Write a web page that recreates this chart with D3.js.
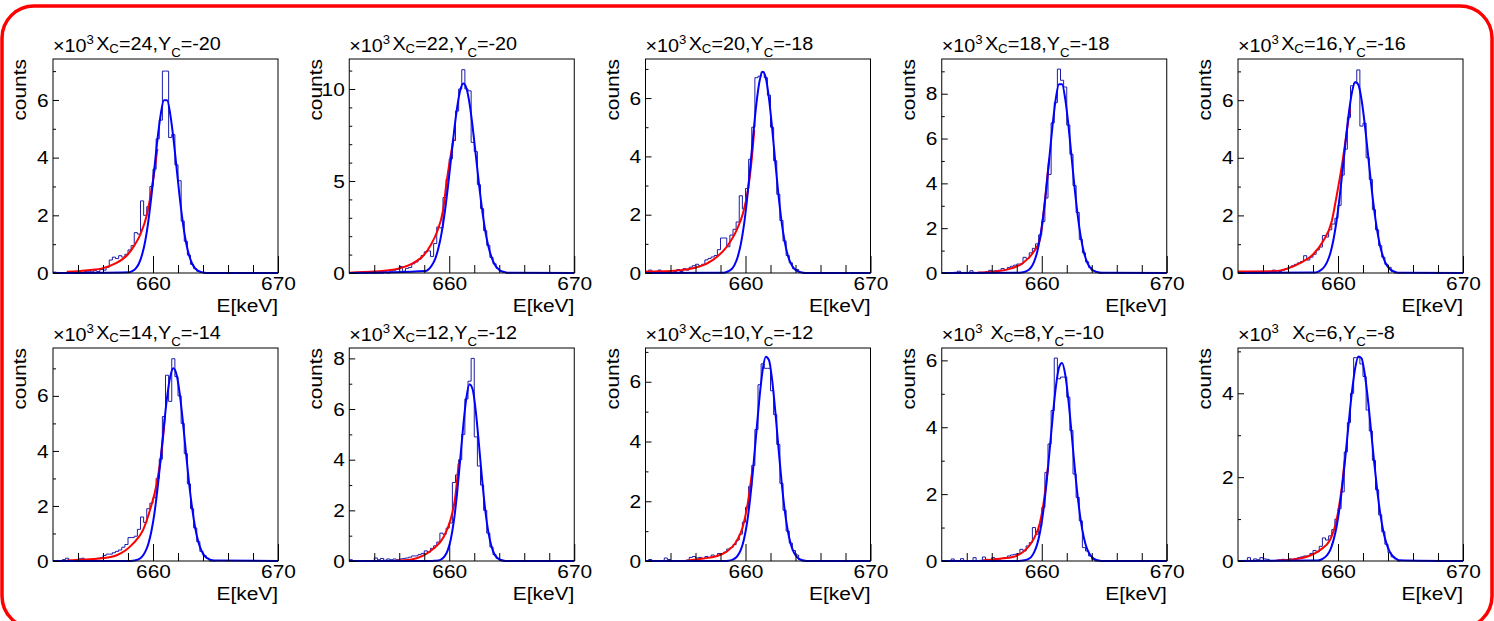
<!DOCTYPE html>
<html>
<head>
<meta charset="utf-8">
<script src="https://cdn.jsdelivr.net/npm/d3@7"></script>
<style>
  body { margin: 0; background: #fff; }
  svg { display: block; font-family: "Liberation Sans", Arial, Helvetica, sans-serif; }
</style>
</head>
<body>
<svg id="chart" width="1494" height="621"></svg>
<script>
// panel labels (X_C, Y_C) and y range top in units of 10^3 counts
const xcLabels = [24, 22, 20, 18, 16, 14, 12, 10, 8, 6];
const ycLabels = [-20, -20, -18, -18, -16, -14, -12, -12, -10, -8];
const yTop = [7.42, 11.63, 7.34, 9.55, 7.43, 7.74, 8.41, 7.13, 6.37, 5.08];
const yStep = [2, 5, 2, 2, 2, 2, 2, 2, 2, 2];
const xMajor = [660, 670];
const xMinor = [654, 656, 658, 662, 664, 666, 668];

// histograms: 0.25 keV bins starting at 652 keV (x10^3 counts)
const binStart = 652, binWidth = 0.25;
const hist1 = [0.03,0.02,0,0,0,0,0,0.02,0.03,0.02, 0.05,0.06,0.04,0.08,0.05,0.12,0.1,0.2,0.45,0.55, 0.5,0.6,0.55,0.65,0.8,0.95,1.4,1.35,2.5,2.0, 2.3,3.0,3.6,4.65,5.3,7.0,7.0,4.7,4.8,3.75, 3.2,1.8,1.1,0.62,0.3,0.15,0.06,0.02,0,0, 0,0];
const hist2 = [0,0,0,0,0,0,0,0,0,0, 0,0.05,0,0.1,0.15,0.2,0.35,0.1,0.25,0.3, 0.5,0.6,0.75,0.95,1.15,1.2,0.9,1.6,2.5,2.45, 4.1,5.1,6.2,7.2,8.8,10.0,11.05,10.0,9.9,7.1, 6.6,4.8,3.5,2.3,1.5,0.85,0.5,0.25,0.1,0.05, 0,0];
const hist3 = [0,0.1,0,0.05,0.1,0,0.05,0.02,0,0.05, 0.12,0.05,0.15,0.1,0.2,0.25,0.3,0.25,0.3,0.45, 0.5,0.55,0.6,0.8,1.2,1.2,0.9,1.3,1.5,1.75, 2.65,2.2,2.9,3.9,5.0,6.7,6.75,6.9,6.7,6.1, 5.0,3.85,2.7,1.8,1.1,0.6,0.35,0.15,0.12,0.03, 0,0];
const hist4 = [0,0,0,0,0.03,0.08,0,0.02,0,0.1, 0,0,0,0,0.05,0.12,0.08,0.1,0.12,0.2, 0.15,0.25,0.3,0.35,0.4,0.4,0.7,0.65,0.9,1.1, 1.3,1.7,2.3,3.35,4.4,6.7,7.6,9.1,8.6,8.3, 6.6,5.3,3.9,2.7,1.5,0.9,0.5,0.25,0.1,0.05, 0,0];
const hist5 = [0,0,0,0,0,0,0,0,0,0, 0.06,0.1,0.08,0.05,0.1,0.15,0.2,0.25,0.3,0.35, 0.4,0.6,0.45,0.55,0.65,0.8,0.9,1.3,1.25,1.5, 1.7,1.9,2.35,3.4,4.3,5.4,6.5,6.6,7.05,5.1, 5.2,4.0,3.25,2.2,1.5,0.95,0.55,0.3,0.2,0.05, 0,0];
const hist6 = [0,0,0,0.05,0.1,0.02,0,0,0.08,0.1, 0.05,0.03,0.05,0.08,0.1,0.12,0.2,0.25,0.25,0.3, 0.35,0.4,0.5,0.6,0.85,0.85,0.9,1.15,1.6,1.4, 1.9,2.1,2.3,3.0,3.7,5.25,6.75,5.8,7.35,6.7, 6.0,5.0,3.9,2.8,1.9,1.2,0.7,0.35,0.2,0.1, 0,0];
const hist7 = [0.05,0,0,0,0,0,0,0,0.12,0.05, 0.1,0.03,0.08,0.05,0.08,0.05,0.08,0.1,0.12,0.15, 0.2,0.2,0.25,0.3,0.4,0.35,0.5,0.6,0.75,1.1, 1.05,1.3,1.5,3.1,3.4,4.0,5.0,6.4,7.1,8.0, 4.9,3.75,3.0,2.0,1.1,0.55,0.25,0.1,0.04,0, 0,0];
const hist8 = [0,0.05,0,0,0,0,0.1,0.05,0,0, 0,0,0,0.03,0.12,0.15,0.1,0.12,0.08,0.15, 0.12,0.2,0.15,0.25,0.25,0.3,0.4,0.45,0.55,0.7, 0.9,1.3,1.8,2.5,3.2,4.4,5.9,6.6,6.45,6.45, 5.7,4.9,3.9,2.6,1.7,1.0,0.6,0.35,0.2,0.05, 0,0];
const hist9 = [0,0,0,0.06,0,0,0.07,0,0,0, 0.1,0,0.02,0.12,0.05,0.02,0.1,0.05,0.06,0.08, 0.1,0.15,0.18,0.2,0.22,0.35,0.3,0.45,0.55,1.0, 0.8,1.05,1.6,2.65,3.5,4.5,6.07,5.45,5.5,5.5, 4.9,3.9,2.6,1.9,1.2,0.4,0.3,0.15,0.05,0, 0,0];
const hist10 = [0,0,0,0.08,0,0.05,0.03,0.08,0.05,0.04, 0,0,0.02,0.02,0.04,0.03,0.05,0.04,0.06,0.08, 0.1,0.12,0.12,0.18,0.25,0.22,0.35,0.55,0.5,0.6, 0.75,1.0,1.25,1.65,2.6,3.3,4.0,4.85,4.85,4.7, 4.4,3.6,3.1,2.4,1.7,1.1,0.7,0.4,0.2,0.1, 0.05,0];

// blue peak fit, read at 652, 658.125 ... 664.875 (0.25 steps), 670
const blue1 = [0, 0.03,0.07,0.16,0.33,0.63,1.10,1.79, 2.67,3.69,4.70,5.52,5.99,5.99,5.52,4.70,3.69,2.67, 1.79,1.10,0.63,0.33,0.16,0.07,0.03,0.01,0,0,0, 0];
const blue2 = [0, 0.11,0.22,0.43,0.77,1.33,2.13,3.22, 4.57,6.09,7.63,8.97,9.92,10.3,10.04,9.2,7.92,6.4, 4.86,3.47,2.32,1.47,0.87,0.48,0.25,0.12,0.06,0.02,0.01, 0];
const blue3 = [0, 0.01,0.02,0.06,0.13,0.28,0.55,0.99, 1.64,2.53,3.61,4.76,5.82,6.58,6.9,6.69,6.0,4.99, 3.84,2.73,1.80,1.10,0.62,0.33,0.16,0.07,0.03,0.01,0, 0];
const blue4 = [0, 0.01,0.02,0.05,0.11,0.24,0.49,0.92, 1.6,2.58,3.82,5.24,6.64,7.78,8.42,8.42,7.78,6.64, 5.24,3.82,2.58,1.6,0.92,0.49,0.24,0.11,0.05,0.02,0.01, 0];
const blue5 = [0, 0.02,0.04,0.10,0.2,0.38,0.67,1.13, 1.78,2.62,3.6,4.63,5.58,6.29,6.63,6.54,6.04,5.22, 4.22,3.19,2.26,1.5,0.93,0.54,0.29,0.15,0.07,0.03,0.01, 0];
const blue6 = [0, 0,0.01,0.03,0.07,0.16,0.33,0.62, 1.09,1.77,2.68,3.76,4.91,5.95,6.69,7.0,6.79,6.13, 5.13,3.99,2.88,1.94,1.21,0.70,0.38,0.19,0.09,0.04,0.02, 0];
const blue7 = [0, 0,0,0,0.01,0.02,0.07,0.18, 0.42,0.86,1.60,2.67,4.0,5.36,6.46,6.98,6.77,5.9, 4.61,3.23,2.03,1.15,0.58,0.26,0.11,0.04,0.01,0,0, 0];
const blue8 = [0, 0,0,0.01,0.03,0.08,0.18,0.37, 0.72,1.28,2.10,3.15,4.34,5.49,6.4,6.84,6.73,6.08, 5.05,3.85,2.70,1.74,1.03,0.56,0.28,0.13,0.05,0.02,0, 0];
const blue9 = [0, 0,0.01,0.02,0.05,0.11,0.25,0.49, 0.89,1.49,2.31,3.29,4.31,5.2,5.78,5.92,5.58,4.84, 3.87,2.84,1.93,1.2,0.69,0.36,0.18,0.08,0.03,0.01,0, 0];
const blue10 = [0, 0.01,0.01,0.03,0.07,0.14,0.26,0.48, 0.80,1.27,1.87,2.59,3.35,4.06,4.6,4.88,4.84,4.49, 3.9,3.17,2.41,1.72,1.14,0.71,0.42,0.23,0.12,0.06,0.02, 0];

// red low-energy tail fit, [E keV, x10^3 counts]
const red1 = [[653.1,0.04],[654,0.06],[655,0.1],[656,0.17],[657,0.33],[658,0.65],[658.5,0.95],[659,1.35],[659.5,2.0],[660,3.2],[660.35,4.3]];
const red2 = [[652,0.02],[654,0.08],[655,0.14],[656,0.25],[657,0.5],[658,1.0],[658.5,1.5],[659,2.2],[659.5,3.4],[659.8,5.0],[660.35,7.3]];
const red3 = [[652,0.05],[654,0.07],[656.3,0.22],[657.4,0.45],[658.5,0.9],[659.3,1.48],[659.8,2.05],[660.2,2.86],[660.45,3.7],[660.7,4.9]];
const red4 = [[654.9,0.02],[656,0.06],[657.2,0.15],[658.5,0.45],[659.3,0.9],[659.85,1.5],[660.25,3.2],[660.5,4.6],[660.6,5.1]];
const red5 = [[652,0.05],[654.8,0.06],[657,0.35],[658,0.64],[658.8,1.1],[659.5,1.8],[659.9,2.7],[660.3,3.7],[660.7,4.9],[660.95,5.7]];
const red6 = [[653.1,0.02],[655.76,0.09],[657.1,0.21],[658.4,0.63],[659.2,1.12],[659.76,1.85],[660.3,2.82],[660.7,4.03],[660.96,5.25]];
const red7 = [[655.8,0.02],[656.9,0.05],[657.95,0.22],[658.75,0.49],[659.55,0.95],[660.08,1.6],[660.48,2.53],[660.75,3.85]];
const red8 = [[655.25,0.01],[656.6,0.08],[657.65,0.16],[658.45,0.3],[659.25,0.64],[659.78,1.14],[660.18,1.93],[660.58,3.15]];
const red9 = [[655.3,0.02],[656.64,0.07],[657.7,0.12],[658.5,0.27],[659.04,0.47],[659.44,0.72],[659.84,1.12],[660.1,1.62],[660.5,2.81]];
const red10 = [[655.2,0.02],[656.16,0.03],[657.5,0.1],[658.56,0.26],[659.36,0.5],[659.9,1.0],[660.3,1.75],[660.55,2.45]];

const hists = [hist1, hist2, hist3, hist4, hist5, hist6, hist7, hist8, hist9, hist10];
const blues = [blue1, blue2, blue3, blue4, blue5, blue6, blue7, blue8, blue9, blue10];
const reds = [red1, red2, red3, red4, red5, red6, red7, red8, red9, red10];
const fitGrid = [652].concat(d3.range(24, 52).map(i => 652.125 + 0.25 * i), [670]);

const svg = d3.select("#chart");
const sx = 1.1;        // text is a bit wide in the original
const fs = 19;         // tick labels, axis titles
const ft = 18;         // pad title

svg.append("rect")
  .attr("x", 2).attr("y", 6)
  .attr("width", 1490).attr("height", 622)
  .attr("rx", 32).attr("ry", 32)
  .attr("fill", "none")
  .attr("stroke", "#ff0000")
  .attr("stroke-width", 3.5);

const frameW = 225;
const frameTop = [59, 348];
const frameH = [214, 213];

hists.forEach((h, k) => {
  const col = k % 5, row = Math.floor(k / 5);
  const L = 53 + col * 296.25;
  const T = frameTop[row], H = frameH[row];
  const x = d3.scaleLinear().domain([652, 670]).range([L, L + frameW]);
  const y = d3.scaleLinear().domain([0, yTop[k]]).range([T + H, T]);
  const g = svg.append("g");

  // histogram steps
  let p = "M" + x(binStart) + "," + y(h[0]);
  h.forEach((v, i) => {
    if (i > 0) p += "V" + y(v);
    p += "H" + x(binStart + (i + 1) * binWidth);
  });
  g.append("path")
    .attr("d", p)
    .attr("fill", "none")
    .attr("stroke", "#1c1ca8")
    .attr("stroke-width", 1);

  const line = d3.line()
    .x(d => x(d[0]))
    .y(d => y(d[1]))
    .curve(d3.curveMonotoneX);

  g.append("path")
    .attr("d", line(reds[k]))
    .attr("fill", "none")
    .attr("stroke", "#ff0000")
    .attr("stroke-width", 2);

  g.append("path")
    .attr("d", line(blues[k].map((v, i) => [fitGrid[i], v])))
    .attr("fill", "none")
    .attr("stroke", "#0000ff")
    .attr("stroke-width", 2);

  g.append("rect")
    .attr("x", L).attr("y", T)
    .attr("width", frameW).attr("height", H)
    .attr("fill", "none")
    .attr("stroke", "#000")
    .attr("stroke-width", 1);

  // axes, ROOT style ticks inside the frame
  const xMaj = g.append("g").attr("transform", `translate(0,${T + H})`)
    .call(d3.axisBottom(x).tickValues(xMajor).tickSize(-17).tickPadding(4).tickFormat(d3.format("d")));
  const xMin = g.append("g").attr("transform", `translate(0,${T + H})`)
    .call(d3.axisBottom(x).tickValues(xMinor).tickSize(-8).tickFormat(""));
  const yVals = d3.range(0, yTop[k], yStep[k]);
  const yMin = d3.range(0, yTop[k], 1).filter(v => yVals.indexOf(v) < 0);
  const yMaj = g.append("g").attr("transform", `translate(${L},0)`)
    .call(d3.axisLeft(y).tickValues(yVals).tickSize(-6).tickPadding(4).tickFormat(d3.format("d")));
  const yMn = g.append("g").attr("transform", `translate(${L},0)`)
    .call(d3.axisLeft(y).tickValues(yMin).tickSize(-3).tickFormat(""));

  [xMaj, xMin, yMaj, yMn].forEach(a => {
    a.select(".domain").remove();
    a.selectAll("line").attr("stroke", "#000");
    a.selectAll("text")
      .attr("fill", "#000")
      .style("font-size", fs + "px")
      .style("font-family", "'Liberation Sans', Arial, sans-serif")
      .attr("transform", `scale(${sx},1)`);
  });

  // axis titles
  g.append("text")
    .attr("transform", `translate(${L + frameW},${T + H + 39}) scale(${sx},1)`)
    .attr("text-anchor", "end")
    .style("font-size", fs + "px")
    .text("E[keV]");

  g.append("text")
    .attr("transform", `translate(${L - 27},${T}) rotate(-90) scale(${sx},1)`)
    .attr("text-anchor", "end")
    .style("font-size", fs + "px")
    .text("counts");

  // x10^3 multiplier
  const m = g.append("text")
    .attr("transform", `translate(${L},${T - 7}) scale(${sx},1)`)
    .style("font-size", ft + "px");
  m.append("tspan").text("\u00d710");
  m.append("tspan").attr("dy", -8).style("font-size", "12px").text("3");

  // pad title
  const t = g.append("text")
    .attr("transform", `translate(${L + frameW / 2 - 7},${T - 9}) scale(${sx},1)`)
    .attr("text-anchor", "middle")
    .style("font-size", ft + "px");
  t.append("tspan").text("X");
  t.append("tspan").attr("dy", 3).style("font-size", "12px").text("C");
  t.append("tspan").attr("dy", -3).text("=" + xcLabels[k] + ",Y");
  t.append("tspan").attr("dy", 7).style("font-size", "12px").text("C");
  t.append("tspan").attr("dy", -7).text("=" + ycLabels[k]);
});
</script>
</body>
</html>
